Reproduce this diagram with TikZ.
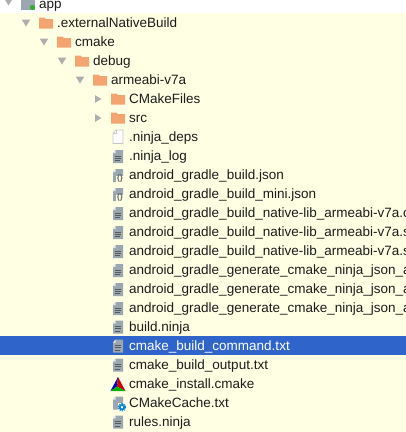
\documentclass[tikz,border=0pt]{standalone}
\usepackage{fontspec}
\setmainfont{Liberation Sans}
\definecolor{cream}{HTML}{FFFFE4}
\definecolor{sel}{HTML}{2F65CA}
\definecolor{fold}{HTML}{F4A46E}
\definecolor{tri}{HTML}{AEAEAE}
\definecolor{fgray}{HTML}{9AA7B0}
\definecolor{txt}{HTML}{1C1C1C}
\tikzset{
  x=1pt,y=-1pt,
  lab/.style={anchor=base west,inner sep=0pt,font=\fontsize{13.5}{15}\selectfont,text=txt},
  folder/.pic={\fill[fold] (0,-5.5) -- (5.5,-5.5) -- (7,-3.8) -- (14,-3.8) -- (14,5.5) -- (0,5.5) -- cycle;},
  down/.pic={\fill[tri] (-4.3,-3.5) -- (4.3,-3.5) -- (0,3.5) -- cycle;},
  right/.pic={\fill[tri] (-3,-3.8) -- (3.5,0) -- (-3,3.8) -- cycle;},
  filebody/.pic={\fill[fgray] (-2.5,-6.5) -- (5,-6.5) -- (5,6.5) -- (-5,6.5) -- (-5,-3.5) -- cycle;
     \fill[white,opacity=.75] (-5,-3.5) -- (-2.5,-6.5) -- (-2.5,-3.5) -- cycle;},
  lines/.pic={\draw[black!65,line width=.8] (-3,-.5) -- (3,-.5) (-3,1.7) -- (3,1.7) (-3,3.9) -- (1.5,3.9);},
  plain/.pic={\pic at (0,0) {filebody}; \pic at (0,0) {lines};},
  blank/.pic={\draw[black!22,fill=white,line width=.7] (-2,-7) -- (5,-7) -- (5,6.5) -- (-5,6.5) -- (-5,-3.5) -- cycle;
     \draw[black!22,line width=.6] (-5,-3.5) -- (-2,-3.5) -- (-2,-7);},
  json/.pic={\pic at (0,0) {filebody};
     \fill[cream] (-2,0) rectangle (6,7.5);
     \node[inner sep=0pt,font=\fontsize{8}{8}\selectfont\bfseries,text=black!60] at (2,3.4) {\{\}};},
  cmk/.pic={\fill[blue!75!black] (0,-7) -- (-7.5,7) -- (-1,2.5) -- cycle;
     \fill[red!80!black] (0,-7) -- (7.5,7) -- (-1,2.5) -- cycle;
     \fill[green!70!black] (-7.5,7) -- (7.5,7) -- (-1,2.5) -- cycle;},
  gearf/.pic={\pic at (0,0) {filebody};
     \fill[cream] (0,0) rectangle (9,9);
     \draw[cyan!70!blue,line width=1.9] (4,4.2) circle (2.3);
     \draw[cyan!70!blue,line width=.9,dash pattern=on 1.3 off 1.1] (4,4.2) circle (3.8);},
}
\begin{document}
\begin{tikzpicture}
\useasboundingbox (0,0) rectangle (406,432);
\clip (0,0) rectangle (406,432);
\fill[white] (0,0) rectangle (406,13);
\fill[cream] (0,13) rectangle (406,432);
\fill[sel] (0,336) rectangle (406,355);
% app row
\pic at (8.5,2) {down};
\fill[fgray] (21,-2) rectangle (35,10);
\fill[green!60!black!80] (32.5,7.5) circle (2.6);
\node[lab] (app) at (39,8.5) {app};
% folders
\pic at (26,23) {down}; \pic at (39,23) {folder};
\node[lab] (ext) at (57,27.5) {.externalNativeBuild};
\pic at (44,42) {down}; \pic at (57,42) {folder};
\node[lab] (cm) at (75,46.5) {cmake};
\pic at (62,61) {down}; \pic at (75,61) {folder};
\node[lab] (dbg) at (93,65.5) {debug};
\pic at (80,80) {down}; \pic at (93,80) {folder};
\node[lab] (arm) at (111,84.5) {armeabi-v7a};
\pic at (98,99) {right}; \pic at (111,99) {folder};
\node[lab] (cf) at (129,103.5) {CMakeFiles};
\pic at (98,118) {right}; \pic at (111,118) {folder};
\node[lab] (src) at (129,122.5) {src};
% files
\pic at (118,137) {blank};
\node[lab] (f1) at (129,141.5) {.ninja\_deps};
\pic at (118,156.5) {plain};
\node[lab] (f2) at (129,160.5) {.ninja\_log};
\pic at (118,175.5) {json};
\node[lab] (f3) at (129,179.5) {android\_gradle\_build.json};
\pic at (118,194.5) {json};
\node[lab] (f4) at (129,198.5) {android\_gradle\_build\_mini.json};
\pic at (118,213.5) {plain};
\node[lab] (f5) at (129,217.5) {android\_gradle\_build\_native-lib\_armeabi-v7a.c};
\pic at (118,232.5) {plain};
\node[lab] (f6) at (129,236.5) {android\_gradle\_build\_native-lib\_armeabi-v7a.s};
\pic at (118,251.5) {plain};
\node[lab] (f7) at (129,255.5) {android\_gradle\_build\_native-lib\_armeabi-v7a.s};
\pic at (118,270.5) {plain};
\node[lab] (f8) at (129,274.5) {android\_gradle\_generate\_cmake\_ninja\_json\_a};
\pic at (118,289.5) {plain};
\node[lab] (f9) at (129,293.5) {android\_gradle\_generate\_cmake\_ninja\_json\_a};
\pic at (118,308.5) {plain};
\node[lab] (f10) at (129,312.5) {android\_gradle\_generate\_cmake\_ninja\_json\_a};
\pic at (118,327) {plain};
\node[lab] (f11) at (129,331.5) {build.ninja};
\pic at (118,346) {plain};
\node[lab,text=white] (f12) at (129,350.5) {cmake\_build\_command.txt};
\pic at (118,365) {plain};
\node[lab] (f13) at (129,369.5) {cmake\_build\_output.txt};
\pic at (118,384) {cmk};
\node[lab] (f14) at (129,388.5) {cmake\_install.cmake};
\pic at (118,403) {gearf};
\node[lab] (f15) at (129,407.5) {CMakeCache.txt};
\pic at (118,422) {plain};
\node[lab] (f16) at (129,426.5) {rules.ninja};
\end{tikzpicture}
\end{document}
